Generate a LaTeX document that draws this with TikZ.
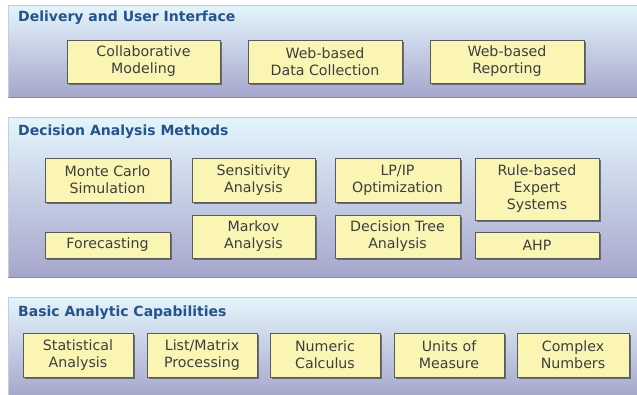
\documentclass[tikz,border=0pt]{standalone}
\usepackage{fontspec}
\setmainfont{DejaVu Sans}
\usetikzlibrary{shadows}
\definecolor{titleblue}{HTML}{245489}
\definecolor{boxtext}{HTML}{3E3E3E}
\definecolor{boxfill}{HTML}{FBF5B4}
\definecolor{boxline}{HTML}{5A5A5A}
\definecolor{paneltop}{HTML}{E4F5FC}
\definecolor{panelbot}{HTML}{A6A6CC}
\definecolor{panelline}{HTML}{C8CCD8}
\tikzset{
  panel/.style={top color=paneltop, bottom color=panelbot, draw=panelline, line width=0.8pt},
  ptitle/.style={anchor=west, inner sep=0pt, text=titleblue, font=\fontsize{14}{16}\selectfont\bfseries},
  mbox/.style={draw=boxline, fill=boxfill, line width=0.8pt, text=boxtext, align=center,
    inner sep=0pt, font=\fontsize{14.2}{17}\selectfont,
    drop shadow={shadow xshift=1.6pt, shadow yshift=-1.6pt, fill=black!65, opacity=0.8}},
}
\begin{document}
\begin{tikzpicture}[x=1pt,y=-1pt]
\useasboundingbox (0,0) rectangle (637,394);
\fill[white] (0,0) rectangle (637,394);
% panels
\shade[panel] (8,5) rectangle (640,97);
\draw[black!45, line width=1.2pt] (8,97.5) -- (640,97.5);
\shade[panel] (8,117) rectangle (640,277);
\draw[black!45, line width=1.2pt] (8,277.5) -- (640,277.5);
\shade[panel] (8,297) rectangle (640,397);
% titles
\node[ptitle] (t1) at (18,18) {Delivery and User Interface};
\node[ptitle] (t2) at (18,132) {Decision Analysis Methods};
\node[ptitle] (t3) at (18,313) {Basic Analytic Capabilities};
% panel 1
\node[mbox, minimum width=153pt, minimum height=43pt] (collab) at (143.5,61.5) {Collaborative\\Modeling};
\node[mbox, minimum width=154pt, minimum height=43pt] (datacoll) at (325,61.5) {Web-based\\Data Collection};
\node[mbox, minimum width=154pt, minimum height=43pt] (report) at (507,61.5) {Web-based\\Reporting};
% panel 2
\node[mbox, minimum width=125pt, minimum height=44pt] (mc) at (107.5,180) {Monte Carlo\\Simulation};
\node[mbox, minimum width=123pt, minimum height=44pt] (sens) at (253.5,180) {Sensitivity\\Analysis};
\node[mbox, minimum width=125pt, minimum height=44pt] (lp) at (397.5,180) {LP/IP\\Optimization};
\node[mbox, minimum width=124pt, minimum height=62pt] (rule) at (537,189) {Rule-based\\Expert\\Systems};
\node[mbox, minimum width=125pt, minimum height=26pt] (fore) at (107.5,245) {Forecasting};
\node[mbox, minimum width=123pt, minimum height=43pt] (markov) at (253.5,236.5) {Markov\\Analysis};
\node[mbox, minimum width=125pt, minimum height=43pt] (dtree) at (397.5,236.5) {Decision Tree\\Analysis};
\node[mbox, minimum width=124pt, minimum height=26pt] (ahp) at (537,245) {AHP};
% panel 3
\node[mbox, minimum width=110pt, minimum height=44pt] (stat) at (78,355) {Statistical\\Analysis};
\node[mbox, minimum width=110pt, minimum height=44pt] (list) at (202,355) {List/Matrix\\Processing};
\node[mbox, minimum width=110pt, minimum height=44pt] (num) at (325,355) {Numeric\\Calculus};
\node[mbox, minimum width=110pt, minimum height=44pt] (units) at (449,355) {Units of\\Measure};
\node[mbox, minimum width=112pt, minimum height=44pt] (cplx) at (573,355) {Complex\\Numbers};
\end{tikzpicture}
\end{document}
